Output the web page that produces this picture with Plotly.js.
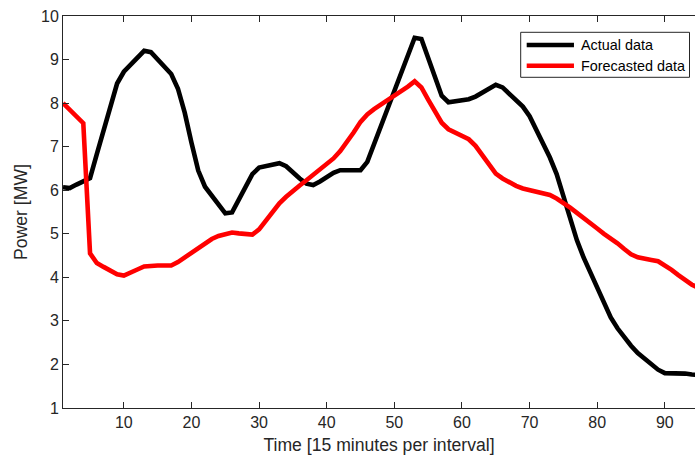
<!DOCTYPE html>
<html>
<head>
<meta charset="utf-8">
<script src="https://cdn.plot.ly/plotly-3.0.1.min.js"></script>
<style>html,body{margin:0;padding:0;background:#fff;overflow:hidden;}#chart{width:695px;height:461px;}</style>
</head>
<body>
<div id="chart"></div>
<script>
const actual = [6.07,6.05,6.13,6.2,6.28,6.83,7.4,7.96,8.45,8.72,8.88,9.04,9.2,9.17,9.0,8.86,8.67,8.33,7.78,7.09,
6.45,6.08,5.88,5.67,5.47,5.49,5.8,6.1,6.37,6.52,6.56,6.58,6.62,6.55,6.4,6.27,6.15,6.12,6.2,6.3,
6.4,6.46,6.46,6.46,6.46,6.65,7.05,7.47,7.89,8.3,8.7,9.1,9.5,9.47,9.04,8.6,8.17,8.02,8.04,8.07,
8.09,8.15,8.23,8.33,8.42,8.36,8.22,8.07,7.92,7.7,7.4,7.07,6.75,6.37,5.86,5.32,4.85,4.45,4.1,3.75,
3.4,3.08,2.83,2.62,2.43,2.26,2.13,2.0,1.88,1.8,1.8,1.8,1.79,1.77,1.75,1.74];
const forecasted = [8.0,7.85,7.7,7.54,4.55,4.33,4.24,4.16,4.07,4.04,4.1,4.18,4.25,4.27,4.27,4.27,4.27,4.35,4.46,4.58,
4.69,4.8,4.88,4.95,5.0,5.03,5.01,5.0,4.98,5.1,5.3,5.5,5.7,5.85,5.99,6.11,6.23,6.35,6.48,6.6,
6.73,6.9,7.1,7.33,7.57,7.74,7.86,7.96,8.05,8.15,8.26,8.38,8.5,8.36,8.08,7.8,7.55,7.4,7.33,7.26,
7.17,7.02,6.8,6.57,6.38,6.27,6.18,6.1,6.04,6.0,5.97,5.94,5.89,5.81,5.72,5.6,5.48,5.37,5.25,5.12,
5.0,4.9,4.78,4.65,4.53,4.46,4.42,4.4,4.37,4.28,4.17,4.05,3.93,3.83,3.76,3.7];
const interval = actual.map((_, i) => i + 1);
const xTicks = [10,20,30,40,50,60,70,80,90];
const yTicks = [1,2,3,4,5,6,7,8,9,10];
const seriesNames = ['Actual data', 'Forecasted data'];
const seriesColors = ['#000000', '#ff0000'];

const FONT = 'Liberation Sans, Arial, Helvetica, sans-serif';
const AX = '#262626';
const LW = 4.6;

const traces = [
  {x: interval, y: actual, name: seriesNames[0], type: 'scatter', mode: 'lines',
   line: {color: seriesColors[0], width: LW}},
  {x: interval, y: forecasted, name: seriesNames[1], type: 'scatter', mode: 'lines',
   line: {color: seriesColors[1], width: LW}}
];

// legend box (paper coordinates), drawn as shapes + annotations
const legBox = {x0: 0.7242, x1: 0.9913, y0: 0.8436, y1: 0.9584};
const legRows = [0.9260, 0.8732];
const legLineX = [0.7337, 0.8085];
const legTextX = 0.8165;

const shapes = [
  {type: 'rect', xref: 'paper', yref: 'paper', x0: legBox.x0, x1: legBox.x1, y0: legBox.y0, y1: legBox.y1,
   line: {color: AX, width: 1}, fillcolor: '#ffffff', layer: 'above'}
];
const annotations = [];
seriesNames.forEach((nm, i) => {
  shapes.push({type: 'line', xref: 'paper', yref: 'paper', x0: legLineX[0], x1: legLineX[1],
    y0: legRows[i], y1: legRows[i], line: {color: seriesColors[i], width: LW}, layer: 'above'});
  annotations.push({xref: 'paper', yref: 'paper', x: legTextX, y: legRows[i], xanchor: 'left', yanchor: 'middle',
    text: nm, showarrow: false, font: {family: FONT, size: 14.4, color: '#000000'}});
});

const layout = {
  width: 695, height: 461,
  margin: {l: 63, r: 0, t: 16, b: 53, pad: 0},
  paper_bgcolor: '#ffffff', plot_bgcolor: '#ffffff',
  font: {family: FONT, color: AX, size: 16},
  showlegend: false,
  shapes: shapes,
  annotations: annotations,
  xaxis: {
    range: [1, 94.46], autorange: false,
    tickmode: 'array', tickvals: xTicks, ticktext: xTicks.map(String),
    ticks: 'inside', ticklen: 6, tickwidth: 1, tickcolor: AX,
    showline: true, linecolor: AX, linewidth: 1, mirror: 'ticks',
    showgrid: false, zeroline: false,
    tickfont: {family: FONT, size: 16, color: AX},
    title: {text: 'Time [15 minutes per interval]', font: {family: FONT, size: 17.6, color: AX}, standoff: 8},
    automargin: false
  },
  yaxis: {
    range: [1, 10], autorange: false,
    tickmode: 'array', tickvals: yTicks, ticktext: yTicks.map(String),
    ticks: 'inside', ticklen: 6, tickwidth: 1, tickcolor: AX,
    showline: true, linecolor: AX, linewidth: 1, mirror: false,
    showgrid: false, zeroline: false,
    tickfont: {family: FONT, size: 16, color: AX},
    title: {text: 'Power [MW]', font: {family: FONT, size: 17.6, color: AX}, standoff: 8},
    automargin: false
  }
};

Plotly.newPlot('chart', traces, layout, {staticPlot: true, displayModeBar: false});
</script>
</body>
</html>
